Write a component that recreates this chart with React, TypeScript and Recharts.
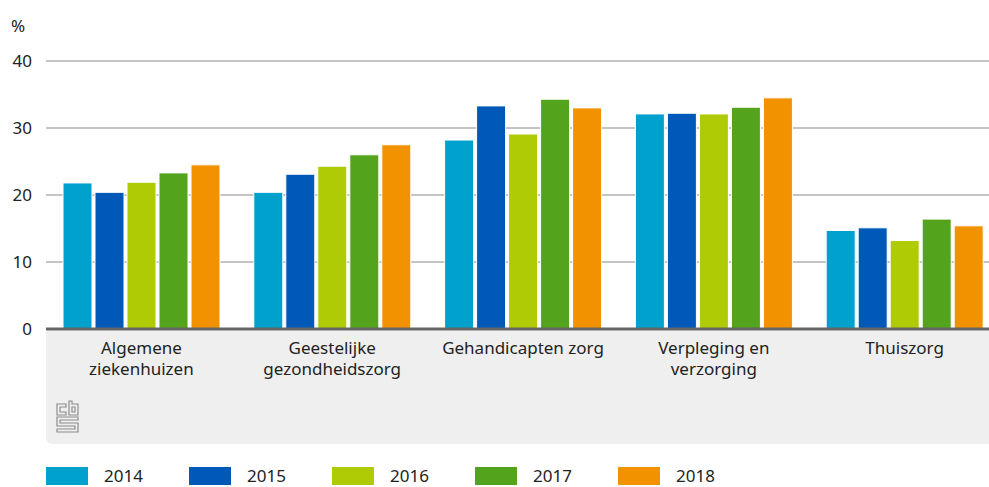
import { BarChart, Bar, XAxis, YAxis, CartesianGrid } from "recharts"

const CATEGORIES = [
  "Algemene\nziekenhuizen",
  "Geestelijke\ngezondheidszorg",
  "Gehandicapten zorg",
  "Verpleging en\nverzorging",
  "Thuiszorg",
]

const YEARS = ["2014", "2015", "2016", "2017", "2018"]

const V2014 = [21.8, 20.4, 28.2, 32.1, 14.7]
const V2015 = [20.4, 23.1, 33.3, 32.2, 15.1]
const V2016 = [21.9, 24.3, 29.1, 32.1, 13.2]
const V2017 = [23.3, 26.0, 34.3, 33.1, 16.4]
const V2018 = [24.5, 27.5, 33.0, 34.5, 15.4]

const Y_TICKS = [0, 10, 20, 30, 40]

const COLORS: Record<string, string> = {
  "2014": "#00a1cd",
  "2015": "#0058b8",
  "2016": "#afcb05",
  "2017": "#53a31d",
  "2018": "#f39200",
}

const FONT = "'Noto Sans', sans-serif"

const data = CATEGORIES.map((name, i) => ({
  name,
  "2014": V2014[i],
  "2015": V2015[i],
  "2016": V2016[i],
  "2017": V2017[i],
  "2018": V2018[i],
}))

function CategoryTick(props: any) {
  const { x, y, payload } = props
  const lines = String(payload.value).split("\n")
  return (
    <text x={x} y={y} textAnchor="middle" fill="#222" fontSize={17} fontFamily={FONT}>
      {lines.map((l, i) => (
        <tspan key={i} x={x} dy={i === 0 ? 25 : 21}>
          {l}
        </tspan>
      ))}
    </text>
  )
}

function ChartLegend() {
  return (
    <div
      style={{
        position: "absolute",
        left: 46,
        top: 467,
        display: "flex",
        fontFamily: FONT,
        fontSize: 17,
        color: "#222",
        lineHeight: "18px",
      }}
    >
      {YEARS.map((y) => (
        <div key={y} style={{ display: "flex", alignItems: "center", width: 143 }}>
          <span style={{ width: 42, height: 18, background: COLORS[y], display: "inline-block" }} />
          <span style={{ marginLeft: 16 }}>{y}</span>
        </div>
      ))}
    </div>
  )
}

function CbsLogo() {
  return (
    <svg width={24} height={34} viewBox="0 0 24 34" style={{ position: "absolute", left: 56, top: 400 }}>
      <g fill="none" stroke="#8c8c8c" strokeWidth={1.2}>
        <path d="M1 4 H10 V7 H4 V12 H10 V15 H1 Z" />
        <path d="M13 1 H16 V4 H22 V15 H13 Z M16 7 V12 H19 V7 Z" />
        <path d="M1 17 H22 V20 H4 V23 H22 V32 H1 V29 H19 V26 H1 Z" />
      </g>
    </svg>
  )
}

export default function App() {
  return (
    <div
      style={{
        position: "absolute",
        left: 0,
        top: 0,
        width: 989,
        height: 487,
        background: "#fff",
        overflow: "hidden",
      }}
    >
      <div
        style={{
          position: "absolute",
          left: 46,
          top: 331,
          width: 943,
          height: 113,
          background: "#efefef",
          borderBottomLeftRadius: 6,
        }}
      />
      <CbsLogo />
      <div style={{ position: "absolute", left: 11, top: 14, fontFamily: FONT, fontSize: 17, color: "#222" }}>%</div>
      <div style={{ position: "absolute", left: 0, top: 0 }}>
        <BarChart
          width={1000}
          height={487}
          data={data}
          margin={{ top: 61, right: 0, bottom: 0, left: 0 }}
          barCategoryGap={17}
          barGap={3}
        >
          <CartesianGrid vertical={false} stroke="#8a8a8a" strokeWidth={1.2} />
          <XAxis
            dataKey="name"
            interval={0}
            height={158}
            axisLine={{ stroke: "#666", strokeWidth: 3 }}
            tickLine={false}
            tickSize={0}
            tickMargin={0}
            tick={<CategoryTick />}
          />
          <YAxis
            width={46}
            domain={[0, 40]}
            ticks={Y_TICKS}
            axisLine={false}
            tickLine={false}
            tickSize={6}
            tickMargin={8}
            tick={{ fill: "#222", fontSize: 17, fontFamily: FONT }}
          />
          {YEARS.map((y) => (
            <Bar key={y} dataKey={y} fill={COLORS[y]} stroke="#fff" strokeWidth={1} isAnimationActive={false} />
          ))}
        </BarChart>
      </div>
      <ChartLegend />
    </div>
  )
}
